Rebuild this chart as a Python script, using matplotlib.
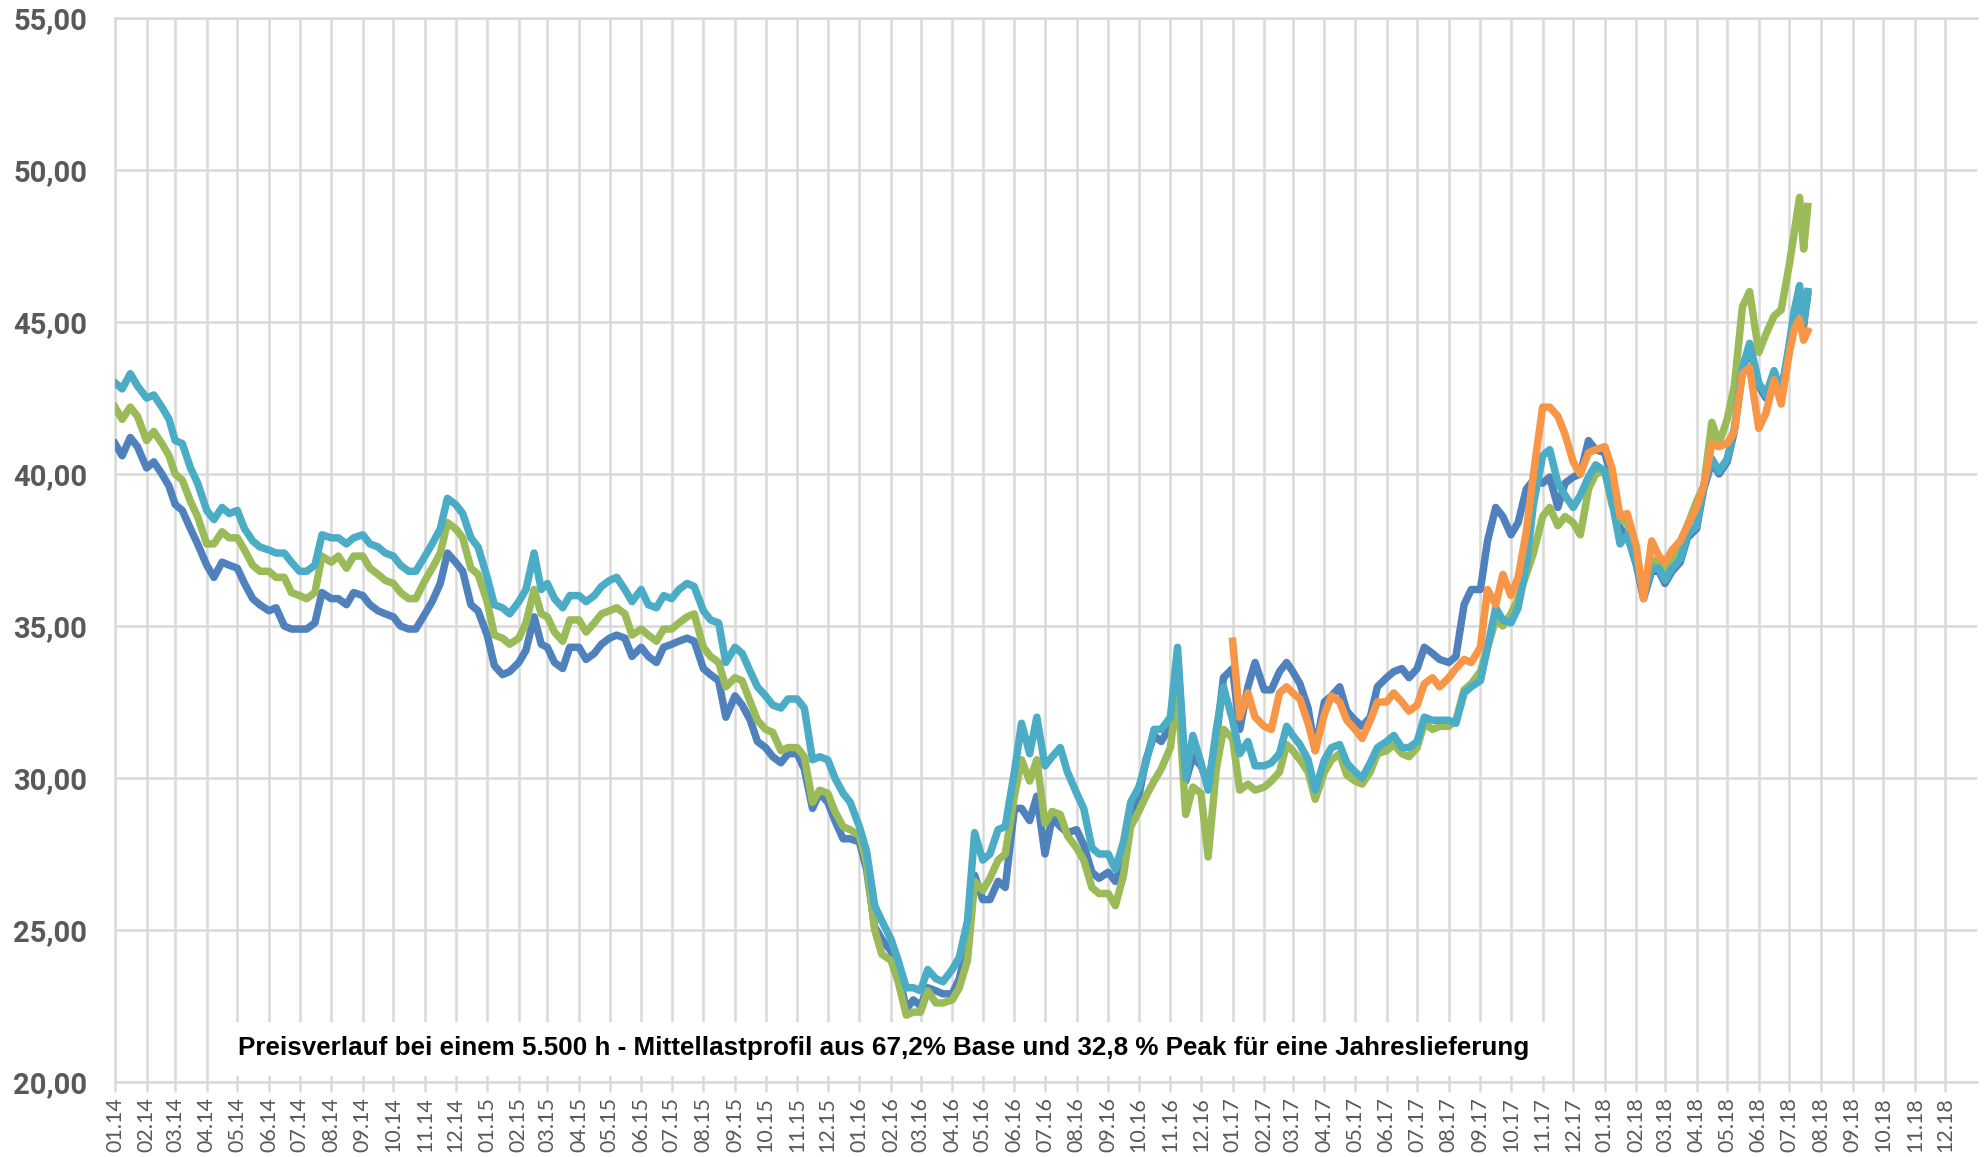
import matplotlib
matplotlib.use("Agg")
import matplotlib.pyplot as plt
import matplotlib.dates as mdates
from matplotlib.patches import Rectangle
import pandas as pd

# sampling days per month (the last month ends mid-July 2018)
month_days = (1, 8, 16, 23)
last_month_days = (1, 6, 11, 15, 19)

# EUR/MWh, Mittellastprofil 5.500 h
blue = [
    # 2014
    41.0, 40.6, 41.2, 40.9, 40.2, 40.4, 40.0, 39.6, 39.0, 38.8, 38.2, 37.7,
    37.0, 36.6, 37.1, 37.0, 36.9, 36.4, 35.9, 35.7, 35.5, 35.6, 35.0, 34.9,
    34.9, 34.9, 35.1, 36.1, 35.9, 35.9, 35.7, 36.1, 36.0, 35.7, 35.5, 35.4,
    35.3, 35.0, 34.9, 34.9, 35.4, 35.8, 36.4, 37.4, 37.1, 36.8, 35.7, 35.5,
    # 2015
    34.7, 33.7, 33.4, 33.5, 33.8, 34.2, 35.3, 34.4, 34.3, 33.8, 33.6, 34.3,
    34.3, 33.9, 34.1, 34.4, 34.6, 34.7, 34.6, 34.0, 34.3, 34.0, 33.8, 34.3,
    34.4, 34.5, 34.6, 34.5, 33.6, 33.4, 33.2, 32.0, 32.7, 32.4, 31.9, 31.2,
    31.0, 30.7, 30.5, 30.8, 30.8, 30.3, 29.0, 29.5, 29.2, 28.6, 28.0, 28.0,
    # 2016
    27.9, 27.0, 25.1, 24.7, 24.3, 23.6, 22.4, 22.7, 22.5, 23.1, 23.0, 22.9,
    22.9, 23.4, 24.6, 26.8, 26.0, 26.0, 26.6, 26.4, 29.0, 29.0, 28.6, 29.4,
    27.5, 28.7, 28.4, 28.2, 28.3, 27.8, 26.9, 26.7, 26.9, 26.6, 27.3, 28.8,
    29.4, 30.6, 31.4, 31.2, 31.7, 34.0, 29.9, 30.7, 30.4, 29.8, 31.3, 33.3,
    # 2017
    33.6, 31.6, 33.0, 33.8, 32.9, 32.9, 33.5, 33.8, 33.5, 33.1, 32.3, 30.9,
    32.5, 32.7, 33.0, 32.2, 31.9, 31.7, 32.0, 33.0, 33.3, 33.5, 33.6, 33.3,
    33.6, 34.3, 34.1, 33.9, 33.8, 34.0, 35.7, 36.2, 36.2, 37.8, 38.9, 38.6,
    38.0, 38.4, 39.5, 39.8, 39.7, 39.9, 38.9, 39.7, 39.9, 40.0, 41.1, 40.8,
    # 2018
    40.7, 39.8, 38.2, 38.0, 37.0, 35.9, 36.8, 36.8, 36.4, 36.8, 37.1, 37.9,
    38.2, 39.5, 40.4, 40.0, 40.4, 41.4, 43.4, 44.2, 42.9, 42.5, 43.3, 42.6,
    44.2, 45.3, 46.1, 44.9, 45.9,
]

green = [
    # 2014
    42.2, 41.8, 42.2, 41.9, 41.1, 41.4, 41.0, 40.6, 40.0, 39.8, 39.1, 38.6,
    37.7, 37.7, 38.1, 37.9, 37.9, 37.5, 37.0, 36.8, 36.8, 36.6, 36.6, 36.1,
    36.0, 35.9, 36.1, 37.3, 37.1, 37.3, 36.9, 37.3, 37.3, 36.9, 36.7, 36.5,
    36.4, 36.1, 35.9, 35.9, 36.5, 36.9, 37.4, 38.4, 38.2, 37.9, 36.9, 36.7,
    # 2015
    35.8, 34.7, 34.6, 34.4, 34.6, 35.1, 36.2, 35.4, 35.3, 34.8, 34.5, 35.2,
    35.2, 34.8, 35.1, 35.4, 35.5, 35.6, 35.4, 34.7, 34.9, 34.7, 34.5, 34.9,
    34.9, 35.1, 35.3, 35.4, 34.3, 34.0, 33.8, 33.0, 33.3, 33.2, 32.5, 31.9,
    31.6, 31.5, 30.9, 31.0, 31.0, 30.7, 29.2, 29.6, 29.5, 28.9, 28.4, 28.3,
    # 2016
    28.1, 27.2, 25.0, 24.2, 24.0, 23.3, 22.2, 22.3, 22.3, 23.0, 22.6, 22.6,
    22.7, 23.1, 24.0, 26.6, 26.3, 26.7, 27.3, 27.5, 29.4, 30.6, 29.9, 30.6,
    28.5, 28.9, 28.8, 28.1, 27.7, 27.3, 26.4, 26.2, 26.2, 25.8, 26.8, 28.4,
    28.9, 29.4, 29.9, 30.3, 31.0, 33.0, 28.8, 29.7, 29.5, 27.4, 30.3, 31.6,
    # 2017
    31.3, 29.6, 29.8, 29.6, 29.7, 29.9, 30.2, 31.1, 30.9, 30.6, 30.2, 29.3,
    30.2, 30.6, 30.8, 30.1, 29.9, 29.8, 30.2, 30.8, 30.9, 31.1, 30.8, 30.7,
    31.0, 31.8, 31.6, 31.7, 31.7, 31.9, 32.9, 33.1, 33.5, 34.3, 35.2, 35.0,
    35.4, 35.9, 36.7, 37.4, 38.6, 38.9, 38.3, 38.6, 38.4, 38.0, 39.5, 40.0,
    # 2018
    40.1, 39.0, 38.5, 38.4, 37.3, 36.0, 37.2, 37.0, 36.7, 37.2, 37.6, 38.3,
    39.1, 39.6, 41.7, 41.0, 41.8, 42.9, 45.5, 46.0, 44.0, 44.6, 45.2, 45.4,
    46.9, 48.0, 49.1, 47.4, 48.8,
]

cyan = [
    # 2014
    43.0, 42.8, 43.3, 42.9, 42.5, 42.6, 42.2, 41.8, 41.1, 41.0, 40.2, 39.7,
    38.8, 38.5, 38.9, 38.7, 38.8, 38.2, 37.8, 37.6, 37.5, 37.4, 37.4, 37.1,
    36.8, 36.8, 37.0, 38.0, 37.9, 37.9, 37.7, 37.9, 38.0, 37.7, 37.6, 37.4,
    37.3, 37.0, 36.8, 36.8, 37.3, 37.7, 38.2, 39.2, 39.0, 38.7, 37.9, 37.6,
    # 2015
    36.6, 35.7, 35.6, 35.4, 35.8, 36.2, 37.4, 36.2, 36.4, 35.9, 35.6, 36.0,
    36.0, 35.8, 36.0, 36.3, 36.5, 36.6, 36.2, 35.8, 36.2, 35.7, 35.6, 36.0,
    35.9, 36.2, 36.4, 36.3, 35.5, 35.2, 35.1, 33.8, 34.3, 34.1, 33.5, 33.0,
    32.7, 32.4, 32.3, 32.6, 32.6, 32.3, 30.6, 30.7, 30.6, 30.0, 29.5, 29.2,
    # 2016
    28.4, 27.6, 25.8, 25.3, 24.7, 24.0, 23.1, 23.1, 23.0, 23.7, 23.4, 23.3,
    23.7, 24.1, 25.3, 28.2, 27.3, 27.5, 28.3, 28.4, 30.2, 31.8, 30.8, 32.0,
    30.4, 30.7, 31.0, 30.2, 29.5, 29.0, 27.7, 27.5, 27.5, 27.0, 27.9, 29.2,
    29.7, 30.5, 31.6, 31.6, 32.0, 34.3, 30.0, 31.4, 30.5, 29.6, 31.6, 33.0,
    # 2017
    31.9, 30.8, 31.2, 30.4, 30.4, 30.5, 30.8, 31.7, 31.4, 31.1, 30.6, 29.6,
    30.6, 31.0, 31.1, 30.5, 30.2, 30.0, 30.5, 31.0, 31.2, 31.4, 31.0, 31.0,
    31.2, 32.0, 31.9, 31.9, 31.9, 31.8, 32.8, 33.0, 33.2, 34.3, 35.6, 35.2,
    35.1, 35.6, 37.0, 39.0, 40.6, 40.8, 39.7, 39.3, 38.9, 39.3, 39.9, 40.3,
    # 2018
    40.1, 39.1, 37.7, 38.0, 37.1, 36.0, 36.9, 36.9, 36.5, 36.9, 37.2, 38.0,
    38.3, 39.6, 40.5, 40.1, 40.5, 41.5, 43.5, 44.3, 43.0, 42.6, 43.4, 42.7,
    44.3, 45.4, 46.2, 45.0, 46.0,
]

# starts with January 2017
orange = [
    # 2017
    34.5, 32.0, 32.8, 32.0, 31.7, 31.6, 32.8, 33.0, 32.8, 32.6, 31.8, 30.9,
    32.1, 32.7, 32.5, 31.9, 31.6, 31.3, 31.9, 32.5, 32.5, 32.8, 32.5, 32.2,
    32.4, 33.1, 33.3, 33.0, 33.3, 33.6, 33.9, 33.8, 34.3, 36.2, 35.7, 36.7,
    36.0, 36.6, 38.1, 40.0, 42.2, 42.2, 41.9, 41.3, 40.4, 40.0, 40.7, 40.8,
    # 2018
    40.9, 40.2, 38.6, 38.7, 37.6, 35.9, 37.8, 37.3, 37.1, 37.5, 37.8, 38.3,
    38.9, 39.6, 41.0, 40.9, 41.0, 41.4, 43.3, 43.5, 41.5, 42.0, 43.1, 42.3,
    44.0, 44.8, 45.1, 44.4, 44.7,
]

y_ticks = [20, 25, 30, 35, 40, 45, 50, 55]
y_labels = ["20,00", "25,00", "30,00", "35,00", "40,00", "45,00", "50,00", "55,00"]

caption = ("Preisverlauf bei einem 5.500 h - Mittellastprofil aus 67,2% Base "
           "und 32,8 % Peak für eine Jahreslieferung")


def sample_dates(first, last):
    dates = []
    for p in pd.period_range(first, last, freq="M"):
        days = last_month_days if p == pd.Period(last, freq="M") else month_days
        dates += [pd.Timestamp(p.year, p.month, d) for d in days]
    return dates


dates = sample_dates("2014-01", "2018-07")
dates_orange = sample_dates("2017-01", "2018-07")

fig = plt.figure(figsize=(19.87, 11.57), dpi=100)
ax = fig.add_axes([115 / 1987, 75 / 1157, 1862 / 1987, 1064 / 1157])

lw = 5.4
ax.plot(dates, blue, color="#4F81BD", lw=lw, zorder=3)
ax.plot(dates, green, color="#9BBB59", lw=lw, zorder=3)
ax.plot(dates, cyan, color="#4BACC6", lw=lw, zorder=3)
ax.plot(dates_orange, orange, color="#F79646", lw=lw, zorder=3)

ax.set_xlim(pd.Timestamp("2014-01-01"), pd.Timestamp("2019-01-01"))
ax.set_ylim(20, 55)
ax.set_yticks(y_ticks, y_labels, fontfamily=["Roboto", "DejaVu Sans"],
              fontweight="bold")
ax.set_xticks(pd.date_range("2014-01-01", "2018-12-01", freq="MS"))
ax.xaxis.set_major_formatter(mdates.DateFormatter("%m.%y"))

ax.grid(True, color="#D9D9D9", lw=1.8, zorder=1)
for side in ("top", "bottom", "left"):
    ax.spines[side].set_color("#D9D9D9")
    ax.spines[side].set_linewidth(1.8)
ax.spines["right"].set_visible(False)

ax.tick_params(axis="x", length=7, width=1.8, color="#D9D9D9", pad=4,
               labelrotation=90, labelsize=15.5, labelcolor="#595959",
               labelfontfamily="Lato")
ax.tick_params(axis="y", length=0, pad=20, labelsize=21, labelcolor="#595959")

# white label box over the lower gridlines
ax.add_patch(Rectangle((0.057, 0.006), 0.72, 0.050, transform=ax.transAxes,
                       facecolor="white", edgecolor="none", zorder=2))
ax.text(0.413, 0.032, caption, transform=ax.transAxes, ha="center", va="center",
        fontsize=18.7, fontweight="bold", color="black", zorder=4,
        family=["Liberation Sans Narrow", "Liberation Sans"])

fig.savefig("out.png", dpi=100)
